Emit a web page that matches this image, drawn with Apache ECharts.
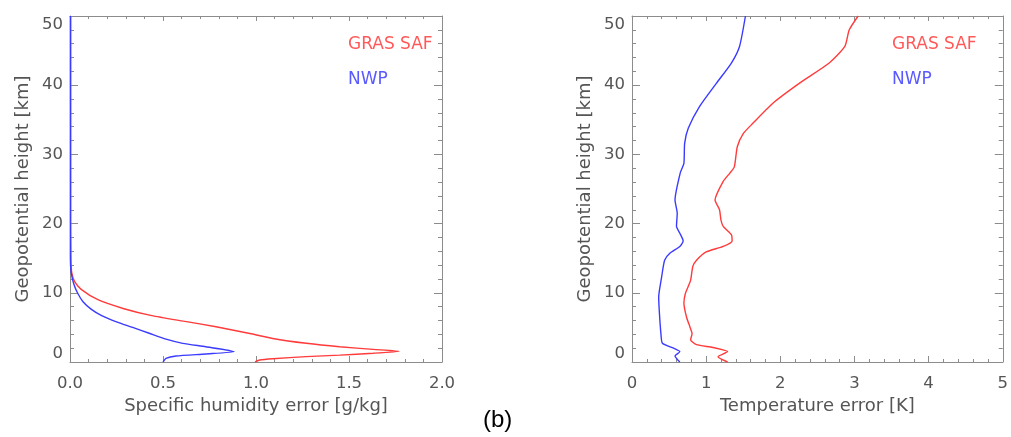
<!DOCTYPE html>
<html>
<head>
<meta charset="utf-8">
<script src="https://cdn.jsdelivr.net/npm/echarts@6/dist/echarts.min.js"></script>
<style>
html,body{margin:0;padding:0;background:#fff;}
#chart{width:1011px;height:437px;}
</style>
</head>
<body>
<div id="chart"></div>
<script>
// Specific humidity error [g/kg] vs geopotential height [km]
const humGrasHeight = [0, 0.29, 0.48, 0.77, 1.0, 1.26, 1.55, 1.83, 2.2, 2.7, 3.4, 4.15, 5.1, 5.9, 6.7, 7.7, 9.0, 10.5, 11.6, 12.8, 14, 16, 20, 30, 40, 50];
const humGrasError  = [0.995, 1.02, 1.09, 1.27, 1.45, 1.63, 1.77, 1.63, 1.45, 1.27, 1.09, 0.96, 0.785, 0.61, 0.44, 0.29, 0.15, 0.06, 0.025, 0.01, 0.006, 0.005, 0.004, 0.004, 0.004, 0.004];
const humNwpHeight  = [0, 0.53, 0.87, 1.16, 1.5, 2.2, 2.7, 3.3, 4.15, 5.0, 5.8, 6.7, 7.6, 8.7, 10.0, 11.3, 12.8, 14, 16, 20, 30, 40, 50];
const humNwpError   = [0.50, 0.516, 0.57, 0.73, 0.883, 0.73, 0.606, 0.516, 0.426, 0.337, 0.25, 0.17, 0.115, 0.07, 0.04, 0.02, 0.007, 0.003, 0.002, 0.002, 0.002, 0.002, 0.002];

// Temperature error [K] vs geopotential height [km]
const tempGrasHeight = [0, 0.77, 1.5, 2.1, 2.5, 3.2, 4.1, 5.1, 6.5, 8.5, 9.9, 11.8, 13.8, 14.7, 15.9, 16.7, 17.5, 18.4, 19.6, 20.5, 22.0, 23.4, 26.1, 27.3, 28.2, 31.1, 33.0, 34.5, 37.4, 40.3, 43.2, 45.6, 48, 50];
const tempGrasError  = [1.29, 1.16, 1.29, 1.09, 0.87, 0.79, 0.81, 0.78, 0.735, 0.70, 0.72, 0.79, 0.82, 0.87, 1.00, 1.23, 1.35, 1.34, 1.23, 1.20, 1.18, 1.12, 1.23, 1.32, 1.38, 1.42, 1.50, 1.63, 1.90, 2.26, 2.66, 2.87, 2.93, 3.05];
const tempNwpHeight  = [0, 0.87, 1.5, 2.0, 2.7, 4.1, 7.0, 9.4, 12.3, 14.7, 15.7, 16.7, 17.5, 18.6, 19.6, 21.5, 23.4, 27.3, 28.7, 31.6, 33.8, 36.9, 40.3, 43.2, 45.6, 50];
const tempNwpError   = [0.645, 0.58, 0.645, 0.56, 0.41, 0.39, 0.37, 0.36, 0.40, 0.44, 0.51, 0.645, 0.69, 0.645, 0.60, 0.61, 0.58, 0.65, 0.70, 0.71, 0.76, 0.91, 1.14, 1.34, 1.45, 1.53];

const heightTicks = [0, 10, 20, 30, 40, 50];
const humTicks = [0.0, 0.5, 1.0, 1.5, 2.0];
const tempTicks = [0, 1, 2, 3, 4, 5];

const seriesNames = ['GRAS SAF', 'NWP'];
const RED = '#ff3b3b', BLUE = '#3b3bff';
const FONT = 'DejaVu Sans';
const GREY = '#555555';
const AXIS = '#8c8c8c';

function pairs(xs, ys) { return xs.map((x, i) => [x, ys[i]]); }

function xAx(gi, ticks, decimals, name, labels) {
  return {
    type: 'value', gridIndex: gi, position: labels ? 'bottom' : 'top',
    min: ticks[0], max: ticks[ticks.length - 1], interval: ticks[1] - ticks[0],
    name: labels ? name : '', nameLocation: 'middle', nameGap: 35,
    nameTextStyle: { color: GREY, fontFamily: FONT, fontSize: 18 },
    axisLine: { show: true, onZero: false, lineStyle: { color: AXIS, width: 1 } },
    axisTick: { show: true, inside: true, length: labels ? 6 : 5, lineStyle: { color: AXIS } },
    minorTick: { show: true, splitNumber: 5, length: 3, lineStyle: { color: AXIS } },
    splitLine: { show: false },
    axisLabel: { show: labels, margin: 13, color: GREY, fontFamily: FONT, fontSize: 16.5,
      formatter: v => v.toFixed(decimals) }
  };
}
function yAx(gi, labels) {
  return {
    type: 'value', gridIndex: gi, position: labels ? 'left' : 'right',
    min: heightTicks[0], max: heightTicks[heightTicks.length - 1], interval: heightTicks[1] - heightTicks[0],
    name: labels ? 'Geopotential height [km]' : '', nameLocation: 'middle', nameGap: 38,
    nameTextStyle: { color: GREY, fontFamily: FONT, fontSize: 18 },
    axisLine: { show: true, onZero: false, lineStyle: { color: AXIS, width: 1 } },
    axisTick: { show: true, inside: true, length: 8, lineStyle: { color: AXIS } },
    minorTick: { show: true, splitNumber: 5, length: 4, lineStyle: { color: AXIS } },
    splitLine: { show: false },
    axisLabel: { show: labels, margin: 7, color: GREY, fontFamily: FONT, fontSize: 16.5,
      verticalAlignMinLabel: 'bottom', verticalAlignMaxLabel: 'top' }
  };
}
function line(name, data, color, xi, yi) {
  return { type: 'line', name, data, xAxisIndex: xi, yAxisIndex: yi,
    showSymbol: false, symbol: 'none', smooth: 0.2, clip: true,
    lineStyle: { color, width: 1.4 }, itemStyle: { color } };
}

const chart = echarts.init(document.getElementById('chart'), null, { renderer: 'canvas' });
chart.setOption({
  animation: false,
  backgroundColor: '#ffffff',
  grid: [
    { left: 70, top: 16, width: 372, height: 346 },
    { left: 632, top: 16, width: 372, height: 346 }
  ],
  xAxis: [
    xAx(0, humTicks, 1, 'Specific humidity error [g/kg]', true),
    xAx(0, humTicks, 1, '', false),
    xAx(1, tempTicks, 0, 'Temperature error [K]', true),
    xAx(1, tempTicks, 0, '', false)
  ],
  yAxis: [ yAx(0, true), yAx(0, false), yAx(1, true), yAx(1, false) ],
  series: [
    line(seriesNames[0], pairs(humGrasError, humGrasHeight), RED, 0, 0),
    line(seriesNames[1], pairs(humNwpError, humNwpHeight), BLUE, 0, 0),
    line(seriesNames[1], pairs(tempNwpError, tempNwpHeight), BLUE, 2, 2),
    line(seriesNames[0], pairs(tempGrasError, tempGrasHeight), RED, 2, 2)
  ],
  graphic: [
    { type: 'text', left: 348, top: 36, style: { text: seriesNames[0], fill: '#ff5a5a', font: '17px "DejaVu Sans"' } },
    { type: 'text', left: 348, top: 71, style: { text: seriesNames[1], fill: '#5a5aff', font: '17px "DejaVu Sans"' } },
    { type: 'text', left: 892, top: 36, style: { text: seriesNames[0], fill: '#ff5a5a', font: '17px "DejaVu Sans"' } },
    { type: 'text', left: 892, top: 71, style: { text: seriesNames[1], fill: '#5a5aff', font: '17px "DejaVu Sans"' } },
    { type: 'text', left: 483, top: 408, style: { text: '(b)', fill: '#000000', font: '24px "Liberation Sans"' } }
  ]
});
</script>
</body>
</html>
